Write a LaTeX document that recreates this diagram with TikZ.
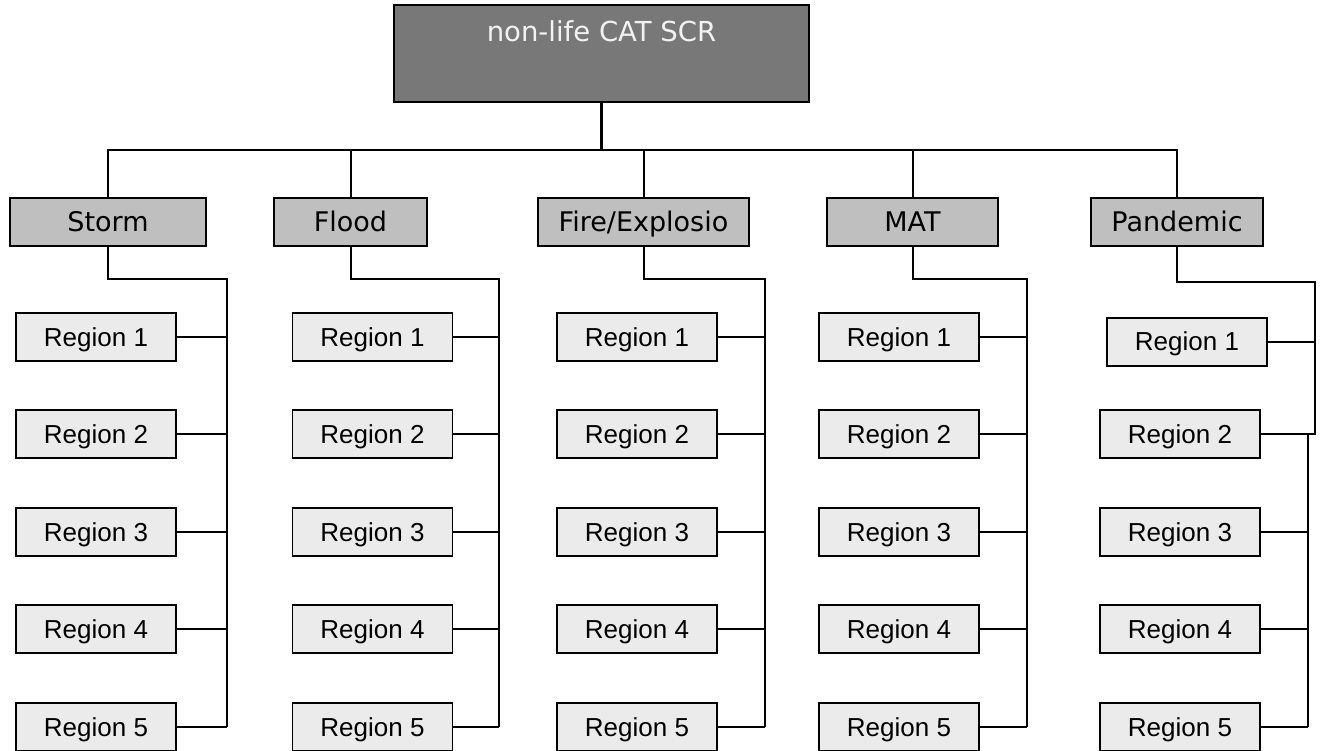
\documentclass[tikz,border=0pt]{standalone}
\usepackage{fontspec}
\setmainfont{Liberation Sans}
\newfontfamily\verdana{DejaVu Sans}
\tikzset{
	topbox/.style={draw, line width=1.8pt, fill=black!53, text=black!5,
			minimum width=415pt, inner xsep=0pt, inner ysep=17pt,
			text height=20pt, text depth=43pt,
			font=\verdana\fontsize{27.5}{32}\selectfont},
	catbox/.style={draw, line width=1.8pt, fill=black!25,
			minimum height=48pt, inner sep=0pt, text height=19pt, text depth=0pt,
			font=\verdana\fontsize{27}{31}\selectfont},
	regbox/.style={draw, line width=1.8pt, fill=black!8,
			minimum width=160pt, minimum height=48pt, inner sep=0pt,
			text height=18pt, text depth=0pt,
			font=\fontsize{26}{30}\selectfont},
	wire/.style={line width=2pt}
}

\begin{document}
\begin{tikzpicture}[x=1pt, y=-1pt]
	\useasboundingbox (0,0) rectangle (1320,751);

	\node[topbox] (scr) at (601.5,53.5) {non-life CAT SCR};
	\coordinate (bus) at (601.5,150);
	\draw[line width=2.8pt] (scr.south) -- (bus);

	\foreach \n/\t/\cx/\w/\rx/\vx in {storm/Storm/108/196/96/227, flood/Flood/350.5/153/372.5/499, fire/{Fire/Explosio}/643.5/211/637/765, mat/MAT/912.5/171/899/1027} {
		\node[catbox, minimum width=\w pt] (\n) at (\cx,222) {\t};
		\draw[wire] (\n.north) -- (\n.north |- bus) -- (bus);
		\coordinate (\n v) at (\vx,279);
		\foreach \r/\ry in {1/337,2/434,3/532,4/629,5/727} {
			\node[regbox] (\n\r) at (\rx,\ry) {Region \r};
			\draw[wire] (\n\r.east) -- (\n\r.east -| \n v);
		}
		\draw[wire] (\n.south) |- (\n v) -- (\n v |- \n5.east);
	}

	\node[catbox, minimum width=172pt] (pand) at (1177,222) {Pandemic};
	\draw[wire] (pand.north) -- (pand.north |- bus) -- (bus);
	\coordinate (pandv) at (1315,282);
	\coordinate (pandw) at (1308,434);
	\node[regbox] (pand1) at (1187,342) {Region 1};
	\foreach \r/\ry in {2/434,3/532,4/629,5/727}
		\node[regbox] (pand\r) at (1180,\ry) {Region \r};
	\draw[wire] (pand.south) |- (pandv) -- (pandv |- pand2.east) -- (pand2.east);
	\draw[wire] (pand1.east) -- (pand1.east -| pandv);
	\draw[wire] (pandw) -- (pandw |- pand5.east);
	\foreach \r in {3,4,5}
		\draw[wire] (pand\r.east) -- (pand\r.east -| pandw);
\end{tikzpicture}
\end{document}
